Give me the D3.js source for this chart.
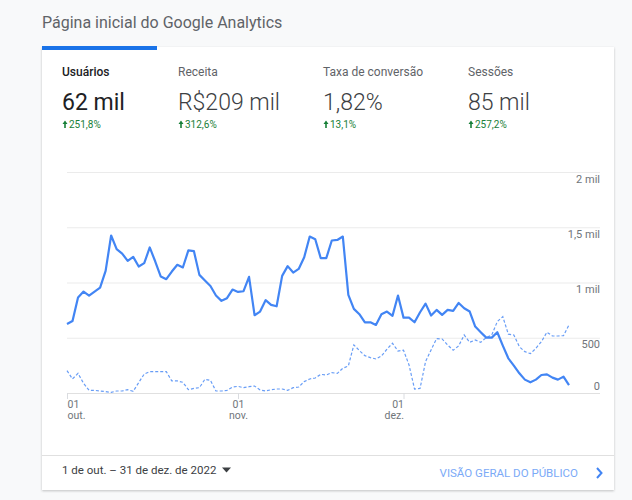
<!DOCTYPE html>
<html>
<head>
<meta charset="utf-8">
<script src="https://cdn.jsdelivr.net/npm/d3@7"></script>
<style>
  html, body { margin: 0; padding: 0; background: #f8f9fa; }
  svg { display: block; font-family: Roboto, "Noto Sans", sans-serif; }
</style>
</head>
<body>
<div id="chart"></div>
<script>
// usuários por dia, 1 out. - 31 dez. 2022
const usuarios = [625,652,864,918,882,918,954,1105,1425,1302,
    1262,1196,1232,1145,1175,1317,1190,1054,1030,1099,
    1160,1136,1290,1284,1069,1018,969,882,834,858,
    936,915,921,1051,704,737,840,797,785,1060,
    1148,1090,1123,1229,1416,1392,1220,1220,1380,1385,
    1416,888,761,713,640,640,616,713,737,698,
    882,682,682,640,731,809,701,752,707,752,
    743,815,767,737,601,550,501,501,550,429,
    314,248,178,121,97,121,163,169,139,121,
    148,72];

// periodo anterior (linha tracejada)
const periodoAnterior = [202,127,178,88,24,24,18,12,6,18,
    18,30,15,94,172,193,193,193,193,109,
    109,97,30,42,48,124,115,18,18,24,
    54,60,48,57,63,27,18,30,36,36,
    24,48,54,103,127,136,169,163,184,178,
    224,245,435,384,338,320,308,335,396,450,
    380,387,254,36,42,284,390,492,489,435,
    387,426,525,459,480,459,501,525,646,691,
    532,525,419,374,356,405,465,550,516,516,
    519,616];

const yTicks = [0, 500, 1000, 1500, 2000];
const yTickLabels = ["0", "500", "1 mil", "1,5 mil", "2 mil"];
const xTickLabels = [["01","out."],["01","nov."],["01","dez."]];

const metricas = ["Usuários", "Receita", "Taxa de conversão", "Sessões"];
const valores = ["62 mil", "R$209 mil", "1,82%", "85 mil"];
const variacoes = ["251,8%", "312,6%", "13,1%", "257,2%"];

const W = 632, H = 500;
const dias = d3.utcDay.range(new Date(Date.UTC(2022,9,1)), new Date(Date.UTC(2023,0,1)));

const svg = d3.select("#chart").append("svg")
    .attr("width", W).attr("height", H);

const defs = svg.append("defs");
const f = defs.append("filter").attr("id","sombra")
    .attr("x","-5%").attr("y","-5%").attr("width","110%").attr("height","115%");
f.append("feDropShadow").attr("dx",0).attr("dy",1).attr("stdDeviation",1.2)
    .attr("flood-color","#3c4043").attr("flood-opacity",0.3);

// titulo
svg.append("text")
    .attr("x", 42).attr("y", 28)
    .attr("font-size", 16).attr("fill", "#5f6368")
    .text("Página inicial do Google Analytics");

// card
svg.append("rect")
    .attr("x", 42).attr("y", 47).attr("width", 572).attr("height", 443)
    .attr("fill", "#fff").attr("filter", "url(#sombra)");
svg.append("rect")
    .attr("x", 42).attr("y", 46).attr("width", 115).attr("height", 4)
    .attr("fill", "#1a73e8");

// metricas
const colX = [62, 178, 323, 468];
metricas.forEach((m, i) => {
    const g = svg.append("g").attr("transform", "translate(" + colX[i] + ",0)");
    g.append("text").attr("y", 76).attr("font-size", 12)
        .attr("font-weight", i === 0 ? 500 : 400)
        .attr("fill", i === 0 ? "#202124" : "#5f6368")
        .text(m);
    g.append("text").attr("y", 110).attr("font-size", 23)
        .attr("fill", i === 0 ? "#202124" : "#3c4043")
        .attr("font-weight", i === 0 ? 400 : 300)
        .text(valores[i]);
    // seta para cima
    g.append("path")
        .attr("d", "M0.5,124 L3,120.5 L5.5,124 Z M2.2,123.5 L3.8,123.5 L3.8,128 L2.2,128 Z")
        .attr("fill", "#188038");
    g.append("text").attr("x", 7).attr("y", 128).attr("font-size", 10)
        .attr("fill", "#188038")
        .text(variacoes[i]);
});

// escalas
const x = d3.scaleUtc().domain([dias[0], dias[dias.length-1]]).range([67, 569]);
const y = d3.scaleLinear().domain([0, 2000]).range([393, 172]);

// grade + rotulos do eixo y
const yAxisG = svg.append("g")
    .attr("transform", "translate(600,0)")
    .call(d3.axisLeft(y).tickValues(yTicks).tickSize(533)
        .tickFormat((d, i) => yTickLabels[i]));
yAxisG.select(".domain").remove();
yAxisG.selectAll(".tick line").attr("stroke", "#ebebeb");
yAxisG.selectAll(".tick text")
    .attr("x", 0).attr("dy", d => d === 0 ? -4 : 10)
    .attr("text-anchor", "end")
    .attr("font-family", "Roboto, sans-serif")
    .attr("font-size", 11).attr("fill", "#70757a");
yAxisG.selectAll(".tick")
    .filter(d => d === 0).select("line").attr("stroke", "#e0e0e0");

// eixo x
const meses = [dias[0], dias[31], dias[61]];
const anchors = ["start", "middle", "end"];
const xAxisG = svg.append("g")
    .attr("transform", "translate(0,393)")
    .call(d3.axisBottom(x).tickValues(meses).tickSize(6).tickFormat(""));
xAxisG.select(".domain").remove();
xAxisG.selectAll(".tick line").attr("stroke", "#dadce0");
xAxisG.selectAll(".tick").each(function(d, i) {
    const tk = d3.select(this);
    tk.append("text")
        .attr("text-anchor", anchors[i])
        .attr("y", 14.5)
        .attr("font-family", "Roboto, sans-serif")
        .attr("font-size", 10.5).attr("fill", "#70757a")
        .text(xTickLabels[i][0]);
    tk.append("text")
        .attr("text-anchor", anchors[i])
        .attr("y", 26)
        .attr("font-family", "Roboto, sans-serif")
        .attr("font-size", 10.5).attr("fill", "#70757a")
        .text(xTickLabels[i][1]);
});

// linhas
const linha = d3.line()
    .x((d, i) => x(dias[i]))
    .y(d => y(d));

svg.append("path")
    .datum(periodoAnterior)
    .attr("d", linha)
    .attr("fill", "none")
    .attr("stroke", "#4285f4")
    .attr("stroke-opacity", 0.8)
    .attr("stroke-width", 1.2)
    .attr("stroke-dasharray", "3,2");

svg.append("path")
    .datum(usuarios)
    .attr("d", linha)
    .attr("fill", "none")
    .attr("stroke", "#4285f4")
    .attr("stroke-width", 2.2)
    .attr("stroke-linejoin", "round");

// rodape
svg.append("line")
    .attr("x1", 42).attr("x2", 614).attr("y1", 455.5).attr("y2", 455.5)
    .attr("stroke", "#e0e0e0");
svg.append("text")
    .attr("x", 62).attr("y", 474).attr("font-size", 11.5).attr("fill", "#3c4043")
    .text("1 de out. – 31 de dez. de 2022");
svg.append("path")
    .attr("d", "M222,467.5 L231,467.5 L226.5,472.5 Z")
    .attr("fill", "#3c4043");
svg.append("text")
    .attr("x", 578).attr("y", 477).attr("font-size", 11.5)
    .attr("text-anchor", "end").attr("fill", "#7baaf7")
    .text("VISÃO GERAL DO PÚBLICO");
svg.append("path")
    .attr("d", "M597,468 L601.5,473 L597,478")
    .attr("fill", "none").attr("stroke", "#4285f4").attr("stroke-width", 2);
</script>
</body>
</html>
